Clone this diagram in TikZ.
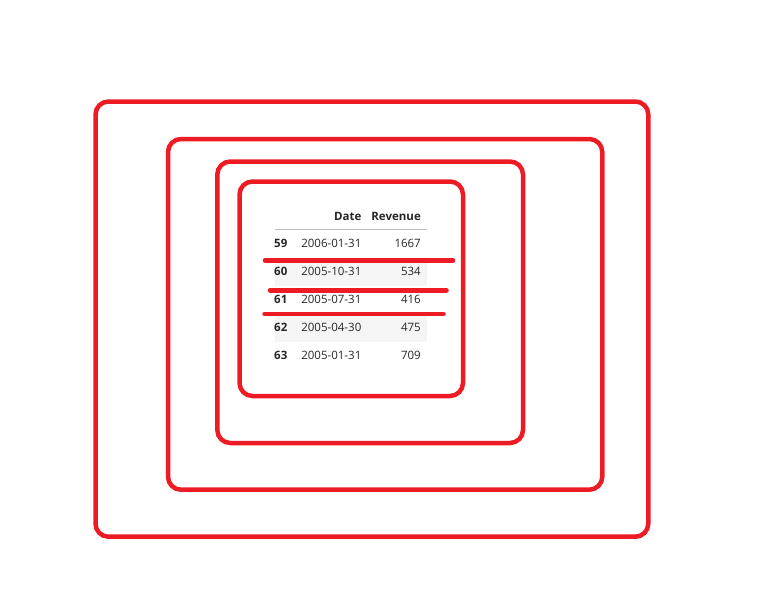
\documentclass[tikz,border=0pt]{standalone}
\usepackage{fontspec}
\setmainfont{Open Sans}
\definecolor{markred}{HTML}{ED1C24}
\definecolor{rowgray}{HTML}{F5F5F5}
\definecolor{rulegray}{HTML}{BDBDBD}
\begin{document}
\begin{tikzpicture}[
            x=1pt, y=-1pt,
            frame/.style={draw=markred, line width=4.5pt, rounded corners=13pt},
            strike/.style={draw=markred, line width=4.5pt, line cap=round},
            cell/.style={inner sep=0pt, text=black!85, font=\fontsize{11.5}{13}\selectfont},
            head/.style={cell, anchor=base east, font=\fontsize{11.5}{13}\selectfont\bfseries},
            idx/.style={cell, anchor=base west, font=\fontsize{11.5}{13}\selectfont\bfseries}
        ]
        \useasboundingbox (0,0) rectangle (768,614);

        % Shaded rows
        \fill[rowgray] (275,258) rectangle (427,286);
        \fill[rowgray] (275,314) rectangle (427,342);

        % Header
        \node[head] (hdate) at (361.5,220) {Date};
        \node[head] (hrev) at (421,220) {Revenue};
        \draw[rulegray, line width=1pt] (275,229.3) -- (427,229.3);

        % Rows
        \foreach \i/\d/\v [count=\k] in {59/2006-01-31/1667, 60/2005-10-31/534,
                61/2005-07-31/416, 62/2005-04-30/475, 63/2005-01-31/709} {
            \node[idx] (idx\k) at (274,{247.5+28*(\k-1)}) {\i};
            \node[cell, anchor=base east] (date\k) at (361.5,{247.5+28*(\k-1)}) {\d};
            \node[cell, anchor=base east] (val\k) at (421,{247.5+28*(\k-1)}) {\v};
        }

        % Strike lines
        \coordinate (s1a) at (265,260.5);
        \coordinate (s1b) at (453,260.5);
        \coordinate (s2a) at (270,290.3);
        \coordinate (s2b) at (446.5,290.3);
        \coordinate (s3a) at (264.5,314);
        \coordinate (s3b) at (443.5,314);
        \draw[strike] (s1a) -- (s1b);
        \draw[strike] (s2a) -- (s2b);
        \draw[strike] (s3a) -- (s3b);

        % Nested frames
        \draw[frame] (95.5,101.5) rectangle (648.3,536.7);
        \draw[frame] (168,139) rectangle (602.3,489.7);
        \draw[frame] (217.3,161.5) rectangle (523,443);
        \draw[frame] (239.5,181.5) rectangle (463,396);
        \end{tikzpicture}
\end{document}
